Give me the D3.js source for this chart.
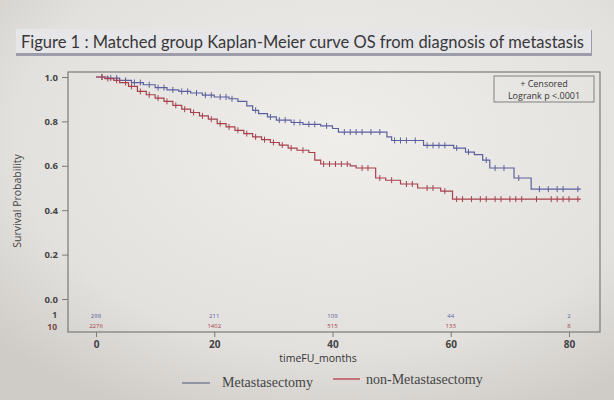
<!DOCTYPE html>
<html><head><meta charset="utf-8">
<script src="https://cdn.jsdelivr.net/npm/d3@7/dist/d3.min.js"></script>
<style>html,body{margin:0;padding:0;background:#dedcd8;}svg{display:block;}</style>
</head><body>
<svg id="c" width="614" height="400"></svg>
<script>
// ---- data ----
const titleText = "Figure 1 : Matched group Kaplan-Meier curve OS from diagnosis of metastasis";
const xTicks = [0, 20, 40, 60, 80];
const yTicks = [0, 0.2, 0.4, 0.6, 0.8, 1.0];
const groupNames = ["Metastasectomy", "non-Metastasectomy"];
const groupCodes = ["1", "10"];
const riskTimes = [0, 20, 40, 60, 80];
const riskMet = [298, 211, 109, 44, 2];
const riskNon = [2276, 1402, 515, 133, 8];
const endTime = 82;
// step points [time, survival]
const stepsMet = [[0,1],[2,0.995],[4,0.985],[6,0.975],[8,0.965],[10,0.952],[12,0.942],[14,0.935],[16,0.928],[18,0.918],[20,0.91],[22.5,0.902],[24,0.89],[25.5,0.87],[26.5,0.85],[27.5,0.835],[29,0.82],[30.5,0.806],[33,0.795],[35,0.787],[38,0.78],[40,0.768],[41,0.752],[49.2,0.73],[50,0.714],[55.4,0.692],[60.5,0.68],[62.5,0.662],[64,0.65],[65.4,0.626],[66.6,0.59],[70.7,0.545],[73.6,0.495]];
const stepsNon = [[0,1],[1.5,0.993],[3,0.985],[4,0.975],[5.5,0.958],[7,0.935],[8.5,0.92],[10,0.905],[11.5,0.89],[13,0.872],[14.5,0.855],[16,0.84],[17.5,0.825],[19,0.81],[20.5,0.79],[22,0.775],[23.5,0.76],[25,0.745],[26.5,0.73],[28,0.718],[29.5,0.705],[31,0.693],[32.5,0.68],[34,0.67],[36,0.66],[37,0.626],[38,0.608],[43,0.6],[44,0.59],[47.3,0.545],[49,0.535],[51.5,0.518],[54.4,0.5],[58.3,0.486],[60.3,0.45]];
const censMet = [1,2.5,3.5,5,6.5,7.5,9,10.5,11.5,13,14.5,15.5,17,18.5,19.5,21,22,23,27,29.5,31,32,33.5,34.5,36,37,39,42,43,44,45,46.5,48,50.5,51.5,52.5,54,56,57,58,59,61,63,66,67.5,69,71.5,75,76.5,78,79,81.5];
const censNon = [1,2,3.5,5,6,7.5,9,10.5,12,13.5,15,16.5,18,19.5,21,22.5,24,25.5,27,28.5,30,31.5,33,35,38.5,39.5,40.5,41.5,42.5,45,46,48,50,52.5,53.5,56,57,59,61,62,63.5,65,66,67.5,68.5,70,71,72,74.5,77,78,79,80,81.5];

// ---- chart ----
const svg = d3.select("#c");
const W = 614, H = 400;
const defs = svg.append("defs");
const rg = defs.append("radialGradient").attr("id","bg").attr("cx","55%").attr("cy","35%").attr("r","75%");
rg.append("stop").attr("offset","0%").attr("stop-color","#efeeeb");
rg.append("stop").attr("offset","70%").attr("stop-color","#e3e1dd");
rg.append("stop").attr("offset","100%").attr("stop-color","#cfccc8");
svg.append("rect").attr("width",W).attr("height",H).attr("fill","url(#bg)");

// title
svg.append("rect").attr("x",16).attr("y",30).attr("width",576).attr("height",26).attr("fill","#9c9cab");
svg.append("rect").attr("x",16).attr("y",29).attr("width",575).attr("height",24).attr("fill","#e6e5e8");
svg.append("text").attr("x",21).attr("y",48).attr("font-family","Lato, 'Open Sans', sans-serif")
  .attr("font-size",17).attr("fill","#383838").attr("textLength",563).attr("lengthAdjust","spacingAndGlyphs").text(titleText);

const x = d3.scaleLinear().domain([0,80]).range([96,569]);
const y = d3.scaleLinear().domain([0,1]).range([299,77]);
const fx0 = 68, fx1 = 600, fy0 = 72, fy1 = 332;
const frameCol = "#7a7a7a";

svg.append("rect").attr("x",fx0).attr("y",fy0).attr("width",fx1-fx0).attr("height",fy1-fy0)
  .attr("fill","none").attr("stroke",frameCol).attr("stroke-width",1.2);

// y axis
const ya = svg.append("g").attr("transform",`translate(${fx0},0)`)
  .call(d3.axisLeft(y).tickValues(yTicks).tickFormat(d3.format(".1f")).tickSize(6).tickPadding(4));
ya.select(".domain").remove();
ya.selectAll("line").attr("stroke",frameCol);
ya.selectAll("text").attr("font-family","'Open Sans', sans-serif").attr("font-size",9.5).attr("font-weight","bold").attr("fill","#444");

// x axis
const xa = svg.append("g").attr("transform",`translate(0,${fy1})`)
  .call(d3.axisBottom(x).tickValues(xTicks).tickSize(5).tickPadding(4));
xa.select(".domain").remove();
xa.selectAll("line").attr("stroke",frameCol);
xa.selectAll("text").attr("font-family","'Open Sans', sans-serif").attr("font-size",10).attr("font-weight","bold").attr("fill","#444");

svg.append("text").attr("x",318).attr("y",362).attr("text-anchor","middle")
  .attr("font-family","'Open Sans', sans-serif").attr("font-size",10.5).attr("fill","#333").text("timeFU_months");
svg.append("text").attr("transform","translate(21,201) rotate(-90)").attr("text-anchor","middle")
  .attr("font-family","'Liberation Sans Narrow', 'Open Sans', sans-serif").attr("font-size",10.5).attr("fill","#444").text("Survival Probability");

const colMet = "#5d609e", colNon = "#a8404d";

function stepPath(steps){
  const pts = steps.concat([[endTime, steps[steps.length-1][1]]]);
  return d3.line().x(d=>x(d[0])).y(d=>y(d[1])).curve(d3.curveStepAfter)(pts);
}
function survAt(steps,t){ let v=1; for(const s of steps){ if(s[0]<=t) v=s[1]; } return v; }

[[stepsMet,censMet,colMet],[stepsNon,censNon,colNon]].forEach(([st,ce,col])=>{
  svg.append("path").attr("d",stepPath(st)).attr("fill","none").attr("stroke",col).attr("stroke-width",1.2);
  svg.append("g").selectAll("line").data(ce).join("line")
    .attr("x1",d=>x(d)).attr("x2",d=>x(d))
    .attr("y1",d=>y(survAt(st,d))-3).attr("y2",d=>y(survAt(st,d))+3)
    .attr("stroke",col).attr("stroke-width",1);
});

// censored box
svg.append("rect").attr("x",494).attr("y",76).attr("width",100).attr("height",26).attr("fill","none").attr("stroke","#777").attr("stroke-width",0.9);
svg.append("text").attr("x",544).attr("y",87).attr("text-anchor","middle").attr("font-family","'Open Sans', sans-serif").attr("font-size",9).attr("fill","#333").text("+ Censored");
svg.append("text").attr("x",544).attr("y",99).attr("text-anchor","middle").attr("font-family","'Open Sans', sans-serif").attr("font-size",9).attr("fill","#333").text("Logrank p <.0001");

// number at risk
svg.append("text").attr("x",57).attr("y",318).attr("text-anchor","end").attr("font-family","'Open Sans', sans-serif").attr("font-size",8.5).attr("font-weight","bold").attr("fill","#444").text(groupCodes[0]);
svg.append("text").attr("x",57).attr("y",330).attr("text-anchor","end").attr("font-family","'Open Sans', sans-serif").attr("font-size",8.5).attr("font-weight","bold").attr("fill","#7a4a44").text(groupCodes[1]);
svg.append("g").selectAll("text").data(riskTimes).join("text")
  .attr("x",d=>x(d)).attr("y",318).attr("text-anchor","middle").attr("font-family","'Open Sans', sans-serif").attr("font-size",6).attr("fill",colMet)
  .text((d,i)=>riskMet[i]);
svg.append("g").selectAll("text").data(riskTimes).join("text")
  .attr("x",d=>x(d)).attr("y",328).attr("text-anchor","middle").attr("font-family","'Open Sans', sans-serif").attr("font-size",6).attr("fill",colNon)
  .text((d,i)=>riskNon[i]);

// legend
svg.append("line").attr("x1",182).attr("x2",210).attr("y1",383).attr("y2",383).attr("stroke","#7d7f99").attr("stroke-width",1.5);
svg.append("text").attr("x",222).attr("y",387).attr("font-family","'Liberation Serif', serif").attr("font-size",14).attr("fill","#444").text(groupNames[0]);
svg.append("line").attr("x1",333).attr("x2",360).attr("y1",379).attr("y2",379).attr("stroke","#b85060").attr("stroke-width",1.5);
svg.append("text").attr("x",366).attr("y",384).attr("font-family","'Liberation Serif', serif").attr("font-size",14).attr("fill","#444").text(groupNames[1]);
</script>
</body></html>
